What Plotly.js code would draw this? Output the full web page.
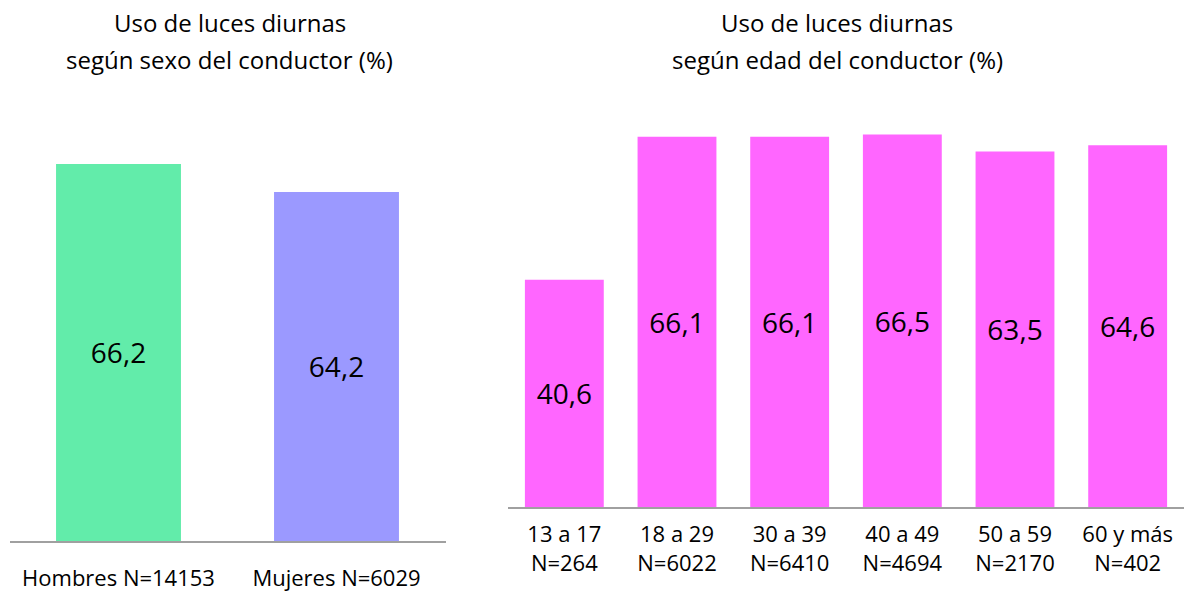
<!DOCTYPE html>
<html>
<head>
<meta charset="utf-8">
<script src="https://cdn.plot.ly/plotly-3.0.1.min.js"></script>
<style>html,body{margin:0;padding:0;background:#fff;}#chart{width:1184px;height:592px;}</style>
</head>
<body>
<div id="chart"></div>
<script>
// Data
const sexCategories = ["Hombres N=14153", "Mujeres N=6029"];
const sexValues = [66.2, 64.2];
const ageCategories = ["13 a 17<br>N=264", "18 a 29<br>N=6022", "30 a 39<br>N=6410", "40 a 49<br>N=4694", "50 a 59<br>N=2170", "60 y más<br>N=402"];
const ageValues = [40.6, 66.1, 66.1, 66.5, 63.5, 64.6];
const titleLeft = ["Uso de luces diurnas", "según sexo del conductor (%)"];
const titleRight = ["Uso de luces diurnas", "según edad del conductor (%)"];

const fmt = v => v.toFixed(1).replace('.', ',');
const FONT = "Open Sans, Noto Sans, sans-serif";
const LEFT_MIN = 39.27;

const traces = [
  {
    type: "bar", x: sexCategories, y: sexValues.map(v => v - LEFT_MIN), base: LEFT_MIN,
    width: 0.573,
    xaxis: "x", yaxis: "y",
    marker: {color: ["#62ECAA", "#9B99FF"]},
    text: sexValues.map(fmt), textposition: "inside", insidetextanchor: "middle",
    textfont: {family: FONT, size: 28, color: "#000"}, constraintext: "none",
    hoverinfo: "skip", showlegend: false
  },
  {
    type: "bar", x: ageCategories, y: ageValues,
    width: 0.70,
    xaxis: "x2", yaxis: "y2",
    marker: {color: "#FF66FF"},
    text: ageValues.map(fmt), textposition: "inside", insidetextanchor: "middle",
    textfont: {family: FONT, size: 28, color: "#000"}, constraintext: "none",
    hoverinfo: "skip", showlegend: false
  }
];

const H = 592, W = 1184;
const ann = [];
[[titleLeft, 230], [titleRight, 837]].forEach(([lines, cx]) => {
  lines.forEach((t, i) => {
    ann.push({text: t, xref: "paper", yref: "paper", x: cx / W, y: 1 - (22 + 38 * i) / H,
      xanchor: "center", yanchor: "middle", showarrow: false,
      font: {family: FONT, size: 24, color: "#000"}});
  });
});

const layout = {
  width: W, height: H,
  margin: {l: 0, r: 0, t: 0, b: 0},
  paper_bgcolor: "#fff", plot_bgcolor: "rgba(0,0,0,0)",
  font: {family: FONT, color: "#000"},
  xaxis: {domain: [9.5 / W, 445.5 / W], showline: true, linecolor: "#A0A0A0", linewidth: 2,
    ticks: "", showgrid: false, zeroline: false, tickfont: {size: 22, color: "#000"},
    ticklabelstandoff: 17, fixedrange: true},
  yaxis: {domain: [(H - 541) / H, (H - 100) / H], range: [LEFT_MIN, 70.77], showgrid: false,
    zeroline: false, showticklabels: false, showline: false, fixedrange: true},
  xaxis2: {domain: [508 / W, 1], anchor: "y2", showline: true, linecolor: "#A0A0A0", linewidth: 2,
    ticks: "", showgrid: false, zeroline: false, tickfont: {size: 22, color: "#000"},
    ticklabelstandoff: 7, fixedrange: true},
  yaxis2: {domain: [(H - 507) / H, (H - 100) / H], anchor: "x2", range: [0, 72.68], showgrid: false,
    zeroline: false, showticklabels: false, showline: false, fixedrange: true},
  annotations: ann
};

Plotly.newPlot("chart", traces, layout, {staticPlot: true, displayModeBar: false});
</script>
</body>
</html>
